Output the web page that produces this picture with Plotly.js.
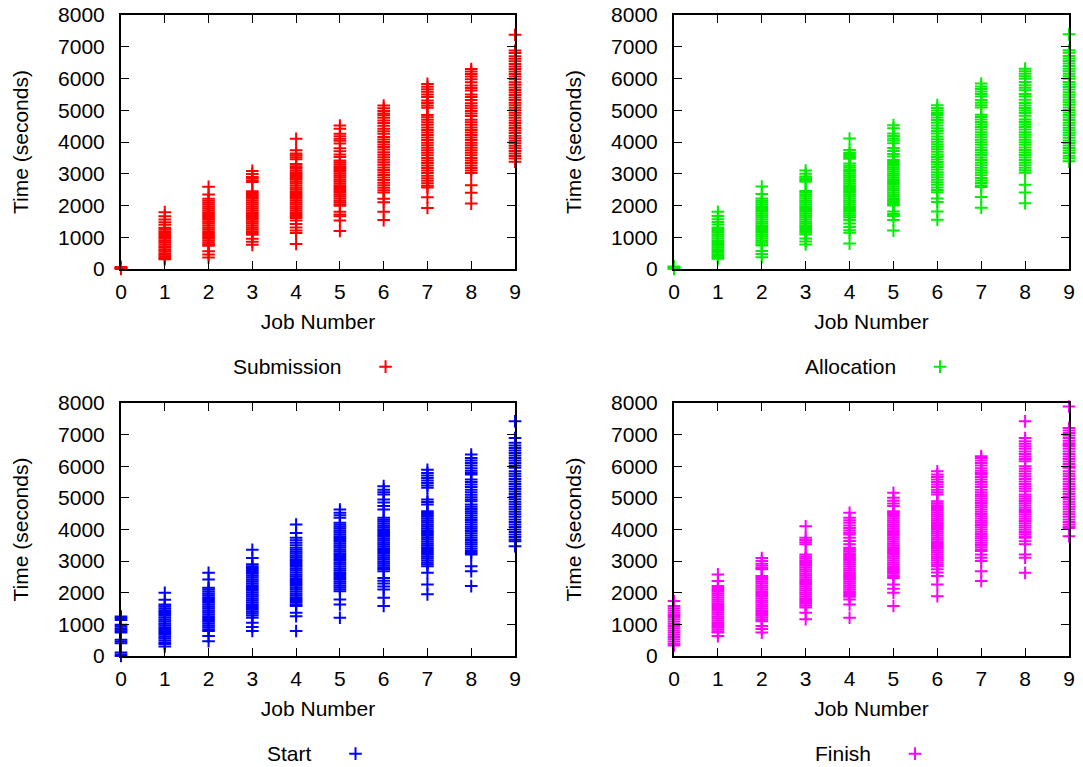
<!DOCTYPE html>
<html><head><meta charset="utf-8">
<script src="https://cdn.plot.ly/plotly-3.0.1.min.js"></script>
<style>html,body{margin:0;padding:0;background:#fff}#chart{width:1083px;height:767px}</style>
</head><body><div id="chart"></div>
<script>
const jobs = [0,1,2,3,4,5,6,7,8,9];
const seriesNames = ['Submission','Allocation','Start','Finish'];
const seriesColors = ['#ff0000','#00ee00','#0000ff','#ff00ff'];

const submission = [
 [0, 15, 30, 45, 60],
 [1790, 1660, 1560, 1470, 1390, 1300, 1250, 1190, 1130, 1070, 1010, 950, 890, 840, 780, 720, 670, 610, 560, 500, 450, 400, 350, 310],
 [2590, 2350, 2210, 2150, 2090, 2030, 1970, 1910, 1850, 1790, 1730, 1670, 1610, 1550, 1490, 1430, 1370, 1310, 1250, 1190, 1130, 1070, 1010, 950, 890, 830, 770, 730, 560, 460, 360],
 [3090, 2990, 2900, 2850, 2790, 2740, 2450, 2390, 2330, 2270, 2210, 2150, 2090, 2030, 1970, 1910, 1850, 1790, 1730, 1670, 1610, 1550, 1490, 1430, 1370, 1310, 1250, 1190, 1130, 1080, 950, 860, 760],
 [4100, 3740, 3640, 3580, 3520, 3460, 3310, 3240, 3180, 3110, 3050, 2990, 2930, 2870, 2810, 2750, 2690, 2630, 2570, 2510, 2450, 2390, 2330, 2270, 2210, 2150, 2090, 2030, 1970, 1910, 1850, 1790, 1730, 1670, 1610, 1530, 1420, 1310, 1210, 1130, 790],
 [4520, 4420, 4260, 4180, 4100, 4040, 3950, 3800, 3710, 3610, 3530, 3420, 3360, 3300, 3240, 3180, 3120, 3060, 3000, 2940, 2880, 2820, 2760, 2700, 2640, 2580, 2520, 2460, 2400, 2340, 2280, 2220, 2160, 2100, 2040, 1990, 1800, 1720, 1660, 1530, 1200],
 [5150, 5060, 4980, 4900, 4840, 4760, 4680, 4600, 4510, 4420, 4340, 4260, 4160, 4080, 4000, 3920, 3840, 3760, 3680, 3600, 3520, 3440, 3360, 3280, 3200, 3120, 3040, 2960, 2880, 2800, 2720, 2640, 2560, 2480, 2410, 2210, 2100, 1800, 1540],
 [5830, 5740, 5660, 5580, 5500, 5420, 5310, 5230, 5150, 5080, 4850, 4780, 4700, 4620, 4540, 4460, 4380, 4300, 4220, 4140, 4060, 3980, 3900, 3820, 3740, 3660, 3580, 3500, 3420, 3340, 3260, 3180, 3100, 3020, 2940, 2860, 2780, 2700, 2620, 2570, 2260, 1920],
 [6300, 6220, 6140, 6060, 5980, 5880, 5780, 5700, 5620, 5500, 5420, 5320, 5220, 5140, 5060, 4980, 4900, 4820, 4700, 4620, 4540, 4460, 4380, 4300, 4220, 4140, 4060, 3980, 3900, 3820, 3740, 3660, 3580, 3500, 3420, 3340, 3260, 3180, 3100, 3020, 2640, 2400, 2060],
 [7380, 6880, 6800, 6700, 6620, 6540, 6460, 6380, 6300, 6220, 6140, 6060, 5980, 5880, 5800, 5720, 5640, 5560, 5480, 5400, 5320, 5240, 5160, 5080, 5000, 4920, 4840, 4760, 4680, 4600, 4520, 4440, 4360, 4280, 4200, 4120, 4040, 3960, 3880, 3800, 3720, 3640, 3560, 3480, 3380]
];

const allocation = [
 [0, 20, 40, 60, 80],
 [1800, 1670, 1570, 1480, 1400, 1310, 1260, 1200, 1140, 1080, 1020, 960, 900, 850, 790, 730, 680, 620, 570, 510, 460, 410, 360, 320],
 [2600, 2360, 2220, 2160, 2100, 2040, 1980, 1920, 1860, 1800, 1740, 1680, 1620, 1560, 1500, 1440, 1380, 1320, 1260, 1200, 1140, 1080, 1020, 960, 900, 840, 780, 740, 570, 470, 370],
 [3100, 3000, 2910, 2860, 2800, 2750, 2460, 2400, 2340, 2280, 2220, 2160, 2100, 2040, 1980, 1920, 1860, 1800, 1740, 1680, 1620, 1560, 1500, 1440, 1380, 1320, 1260, 1200, 1140, 1090, 960, 870, 770],
 [4110, 3750, 3650, 3590, 3530, 3470, 3320, 3250, 3190, 3120, 3060, 3000, 2940, 2880, 2820, 2760, 2700, 2640, 2580, 2520, 2460, 2400, 2340, 2280, 2220, 2160, 2100, 2040, 1980, 1920, 1860, 1800, 1740, 1680, 1620, 1540, 1430, 1320, 1220, 1140, 800],
 [4530, 4430, 4270, 4190, 4110, 4050, 3960, 3810, 3720, 3620, 3540, 3430, 3370, 3310, 3250, 3190, 3130, 3070, 3010, 2950, 2890, 2830, 2770, 2710, 2650, 2590, 2530, 2470, 2410, 2350, 2290, 2230, 2170, 2110, 2050, 2000, 1810, 1730, 1670, 1540, 1210],
 [5160, 5070, 4990, 4910, 4850, 4770, 4690, 4610, 4520, 4430, 4350, 4270, 4170, 4090, 4010, 3930, 3850, 3770, 3690, 3610, 3530, 3450, 3370, 3290, 3210, 3130, 3050, 2970, 2890, 2810, 2730, 2650, 2570, 2490, 2420, 2220, 2110, 1810, 1550],
 [5840, 5750, 5670, 5590, 5510, 5430, 5320, 5240, 5160, 5090, 4860, 4790, 4710, 4630, 4550, 4470, 4390, 4310, 4230, 4150, 4070, 3990, 3910, 3830, 3750, 3670, 3590, 3510, 3430, 3350, 3270, 3190, 3110, 3030, 2950, 2870, 2790, 2710, 2630, 2580, 2270, 1930],
 [6310, 6230, 6150, 6070, 5990, 5890, 5790, 5710, 5630, 5510, 5430, 5330, 5230, 5150, 5070, 4990, 4910, 4830, 4710, 4630, 4550, 4470, 4390, 4310, 4230, 4150, 4070, 3990, 3910, 3830, 3750, 3670, 3590, 3510, 3430, 3350, 3270, 3190, 3110, 3030, 2650, 2410, 2070],
 [7390, 6890, 6810, 6710, 6630, 6550, 6470, 6390, 6310, 6230, 6150, 6070, 5990, 5890, 5810, 5730, 5650, 5570, 5490, 5410, 5330, 5250, 5170, 5090, 5010, 4930, 4850, 4770, 4690, 4610, 4530, 4450, 4370, 4290, 4210, 4130, 4050, 3970, 3890, 3810, 3730, 3650, 3570, 3490, 3390]
];

const start = [
 [1250, 1200, 1140, 990, 940, 880, 830, 780, 740, 510, 460, 400, 110, 50, 0],
 [2000, 1780, 1630, 1570, 1510, 1450, 1390, 1330, 1270, 1210, 1150, 1090, 1030, 970, 910, 850, 790, 730, 670, 610, 550, 490, 430, 380, 300],
 [2630, 2420, 2160, 2100, 2040, 1980, 1920, 1860, 1800, 1740, 1680, 1620, 1560, 1500, 1440, 1380, 1320, 1260, 1200, 1140, 1080, 1020, 960, 900, 840, 790, 630, 470],
 [3360, 3100, 2900, 2840, 2780, 2720, 2660, 2600, 2540, 2480, 2420, 2360, 2300, 2240, 2180, 2120, 2060, 2000, 1940, 1880, 1820, 1760, 1700, 1640, 1580, 1520, 1460, 1400, 1340, 1280, 1210, 1050, 920, 790],
 [4160, 3890, 3740, 3660, 3580, 3500, 3420, 3360, 3300, 3240, 3180, 3120, 3060, 3000, 2940, 2880, 2820, 2760, 2700, 2640, 2580, 2520, 2460, 2400, 2340, 2280, 2220, 2160, 2100, 2040, 1980, 1920, 1860, 1800, 1740, 1680, 1620, 1580, 1370, 1260, 790],
 [4630, 4530, 4450, 4370, 4210, 4150, 4090, 4030, 3970, 3910, 3850, 3790, 3730, 3670, 3610, 3550, 3490, 3430, 3370, 3310, 3250, 3190, 3130, 3070, 3010, 2950, 2890, 2830, 2770, 2710, 2650, 2590, 2530, 2470, 2410, 2350, 2290, 2230, 2170, 2110, 2050, 1790, 1630, 1210],
 [5370, 5260, 5180, 5110, 4950, 4850, 4740, 4630, 4370, 4310, 4250, 4190, 4130, 4070, 4010, 3950, 3890, 3830, 3770, 3710, 3650, 3590, 3530, 3470, 3410, 3350, 3290, 3230, 3170, 3110, 3050, 2990, 2930, 2870, 2810, 2750, 2680, 2470, 2380, 2290, 2200, 2100, 1840, 1580],
 [5890, 5790, 5710, 5630, 5550, 5470, 5390, 5320, 4950, 4870, 4790, 4580, 4520, 4460, 4400, 4340, 4280, 4220, 4160, 4100, 4040, 3980, 3920, 3860, 3800, 3740, 3680, 3620, 3560, 3500, 3440, 3380, 3320, 3260, 3200, 3140, 3080, 3020, 2960, 2900, 2840, 2630, 2260, 1950],
 [6370, 6260, 6180, 6100, 6020, 5940, 5860, 5790, 5740, 5580, 5500, 5420, 5340, 5260, 5180, 5100, 5020, 4950, 4890, 4790, 4720, 4650, 4580, 4510, 4440, 4370, 4300, 4230, 4160, 4090, 4020, 3950, 3880, 3810, 3740, 3670, 3600, 3530, 3460, 3390, 3320, 3260, 3210, 2840, 2680, 2210],
 [7420, 6890, 6740, 6660, 6580, 6500, 6420, 6340, 6260, 6180, 6100, 6020, 5950, 5840, 5760, 5680, 5600, 5520, 5440, 5360, 5280, 5200, 5120, 5040, 4960, 4880, 4800, 4720, 4640, 4560, 4480, 4400, 4320, 4240, 4160, 4080, 4000, 3920, 3840, 3760, 3680, 3630, 3470]
];

const finish = [
 [1740, 1580, 1510, 1440, 1370, 1300, 1230, 1160, 1090, 1020, 950, 880, 810, 740, 670, 600, 530, 460, 390, 330],
 [2580, 2370, 2210, 2150, 2090, 2030, 1970, 1910, 1850, 1790, 1730, 1670, 1610, 1550, 1490, 1430, 1370, 1310, 1250, 1190, 1130, 1070, 1010, 950, 890, 830, 770, 740, 630],
 [3100, 3000, 2920, 2850, 2780, 2740, 2530, 2470, 2410, 2350, 2290, 2230, 2170, 2110, 2050, 1990, 1930, 1870, 1810, 1750, 1690, 1630, 1570, 1510, 1450, 1390, 1330, 1270, 1210, 1150, 1100, 950, 850, 740],
 [4100, 3740, 3670, 3600, 3530, 3210, 3150, 3090, 3030, 2970, 2910, 2850, 2790, 2730, 2670, 2610, 2550, 2490, 2430, 2370, 2310, 2250, 2190, 2130, 2070, 2010, 1950, 1890, 1830, 1770, 1710, 1650, 1590, 1530, 1370, 1160],
 [4530, 4370, 4290, 4210, 4130, 4050, 3970, 3900, 3840, 3740, 3640, 3530, 3420, 3370, 3310, 3250, 3190, 3130, 3070, 3010, 2950, 2890, 2830, 2770, 2710, 2650, 2590, 2530, 2470, 2410, 2350, 2290, 2230, 2170, 2110, 2050, 1990, 1930, 1870, 1790, 1630, 1210],
 [5160, 5000, 4910, 4820, 4740, 4580, 4520, 4460, 4400, 4340, 4280, 4220, 4160, 4100, 4040, 3980, 3920, 3860, 3800, 3740, 3680, 3620, 3560, 3500, 3440, 3380, 3320, 3260, 3200, 3140, 3080, 3020, 2960, 2900, 2840, 2780, 2720, 2660, 2600, 2530, 2470, 2260, 2130, 2000, 1580],
 [5840, 5740, 5660, 5580, 5500, 5420, 5340, 5260, 5180, 5110, 4890, 4830, 4770, 4710, 4650, 4590, 4530, 4470, 4410, 4350, 4290, 4230, 4170, 4110, 4050, 3990, 3930, 3870, 3810, 3750, 3690, 3630, 3570, 3510, 3450, 3390, 3330, 3270, 3210, 3150, 3090, 3030, 2960, 2890, 2840, 2740, 2640, 2530, 2260, 1890],
 [6320, 6260, 6180, 6100, 6020, 5940, 5860, 5790, 5740, 5660, 5580, 5500, 5420, 5340, 5260, 5180, 5110, 5050, 4980, 4910, 4840, 4770, 4700, 4630, 4560, 4490, 4420, 4350, 4280, 4210, 4140, 4070, 4000, 3930, 3860, 3790, 3720, 3650, 3580, 3510, 3440, 3370, 3320, 3210, 3110, 3000, 2680, 2370],
 [7420, 6890, 6790, 6710, 6630, 6550, 6470, 6390, 6310, 6230, 6160, 6000, 5920, 5840, 5760, 5680, 5600, 5520, 5440, 5360, 5290, 5210, 5110, 5040, 4970, 4900, 4830, 4760, 4690, 4620, 4550, 4480, 4410, 4340, 4270, 4200, 4130, 4060, 3990, 3920, 3850, 3780, 3740, 3630, 3530, 3210, 3110, 2630],
 [7890, 7210, 7130, 7050, 6970, 6890, 6810, 6730, 6680, 6630, 6550, 6470, 6390, 6310, 6230, 6150, 6070, 5990, 5950, 5840, 5760, 5680, 5600, 5520, 5440, 5360, 5280, 5200, 5120, 5040, 4960, 4880, 4800, 4720, 4640, 4560, 4480, 4400, 4320, 4240, 4160, 4090, 4050, 3790]
];

const xTickVals = [0,1,2,3,4,5,6,7,8,9];
const yTickVals = [0,1000,2000,3000,4000,5000,6000,7000,8000];

const allSeries = [submission, allocation, start, finish];

function flatten(series) {
  const x = [], y = [];
  series.forEach((vals, i) => vals.forEach(v => { x.push(jobs[i]); y.push(v); }));
  return {x, y};
}

const W = 1083, H = 767;
const FONT = 'Liberation Sans, Arial, Helvetica, sans-serif';
const FS = 21;
// panel pixel boxes: [left, right, top, bottom]
const boxes = [[121,515,15,269],[674,1069,15,269],[121,515,403,656],[674,1069,403,656]];
// legend text start x and center y in px
const legendPos = [[233,366],[805,366],[267,753],[815,753]];

const traces = [];
const layout = {
  width: W, height: H,
  margin: {l:0, r:0, t:0, b:0, autoexpand: false},
  paper_bgcolor: '#fff', plot_bgcolor: '#fff',
  font: {family: FONT, size: FS, color: '#000'},
  showlegend: true
};

allSeries.forEach((s, k) => {
  const d = flatten(s);
  const suffix = k === 0 ? '' : String(k + 1);
  const legKey = 'legend' + suffix;
  traces.push({
    type: 'scatter', mode: 'markers',
    x: d.x, y: d.y,
    xaxis: 'x' + suffix, yaxis: 'y' + suffix,
    name: '',
    legend: legKey,
    cliponaxis: false,
    hoverinfo: 'x+y',
    marker: {symbol: 'cross-thin', size: 9, color: seriesColors[k], line: {width: 2, color: seriesColors[k]}}
  });
  const b = boxes[k];
  const common = {
    ticks: 'inside', ticklen: 8, tickwidth: 1, tickcolor: '#000',
    showline: true, linecolor: '#000', linewidth: 2, mirror: 'ticks',
    showgrid: false, zeroline: false, fixedrange: true, automargin: false,
    tickfont: {family: FONT, size: FS, color: '#000'}
  };
  layout['xaxis' + suffix] = Object.assign({}, common, {
    domain: [b[0]/W, b[1]/W], anchor: 'y' + suffix,
    range: [0, 9], tickvals: xTickVals, ticktext: xTickVals.map(String),
    ticklabelstandoff: 3,
    title: {text: 'Job Number', font: {family: FONT, size: FS, color: '#000'}, standoff: 12}
  });
  layout['yaxis' + suffix] = Object.assign({}, common, {
    domain: [1 - b[3]/H, 1 - b[2]/H], anchor: 'x' + suffix,
    range: [0, 8000], tickvals: yTickVals, ticktext: yTickVals.map(String),
    ticklabelstandoff: 10,
    title: {text: 'Time (seconds)', font: {family: FONT, size: FS, color: '#000'}, standoff: 24}
  });
  const lp = legendPos[k];
  layout[legKey] = {
    x: (lp[0] - 2) / W, y: 1 - (lp[1] + 1)/H, xanchor: 'left', yanchor: 'middle',
    orientation: 'h', bgcolor: 'rgba(0,0,0,0)', borderwidth: 0,
    font: {family: FONT, size: FS, color: '#000'},
    title: {text: seriesNames[k], side: 'left', font: {family: FONT, size: FS, color: '#000'}},
    indentation: 16,
    itemwidth: 30
  };
});

Plotly.newPlot('chart', traces, layout, {displayModeBar: false, staticPlot: true});
</script>
</body></html>
